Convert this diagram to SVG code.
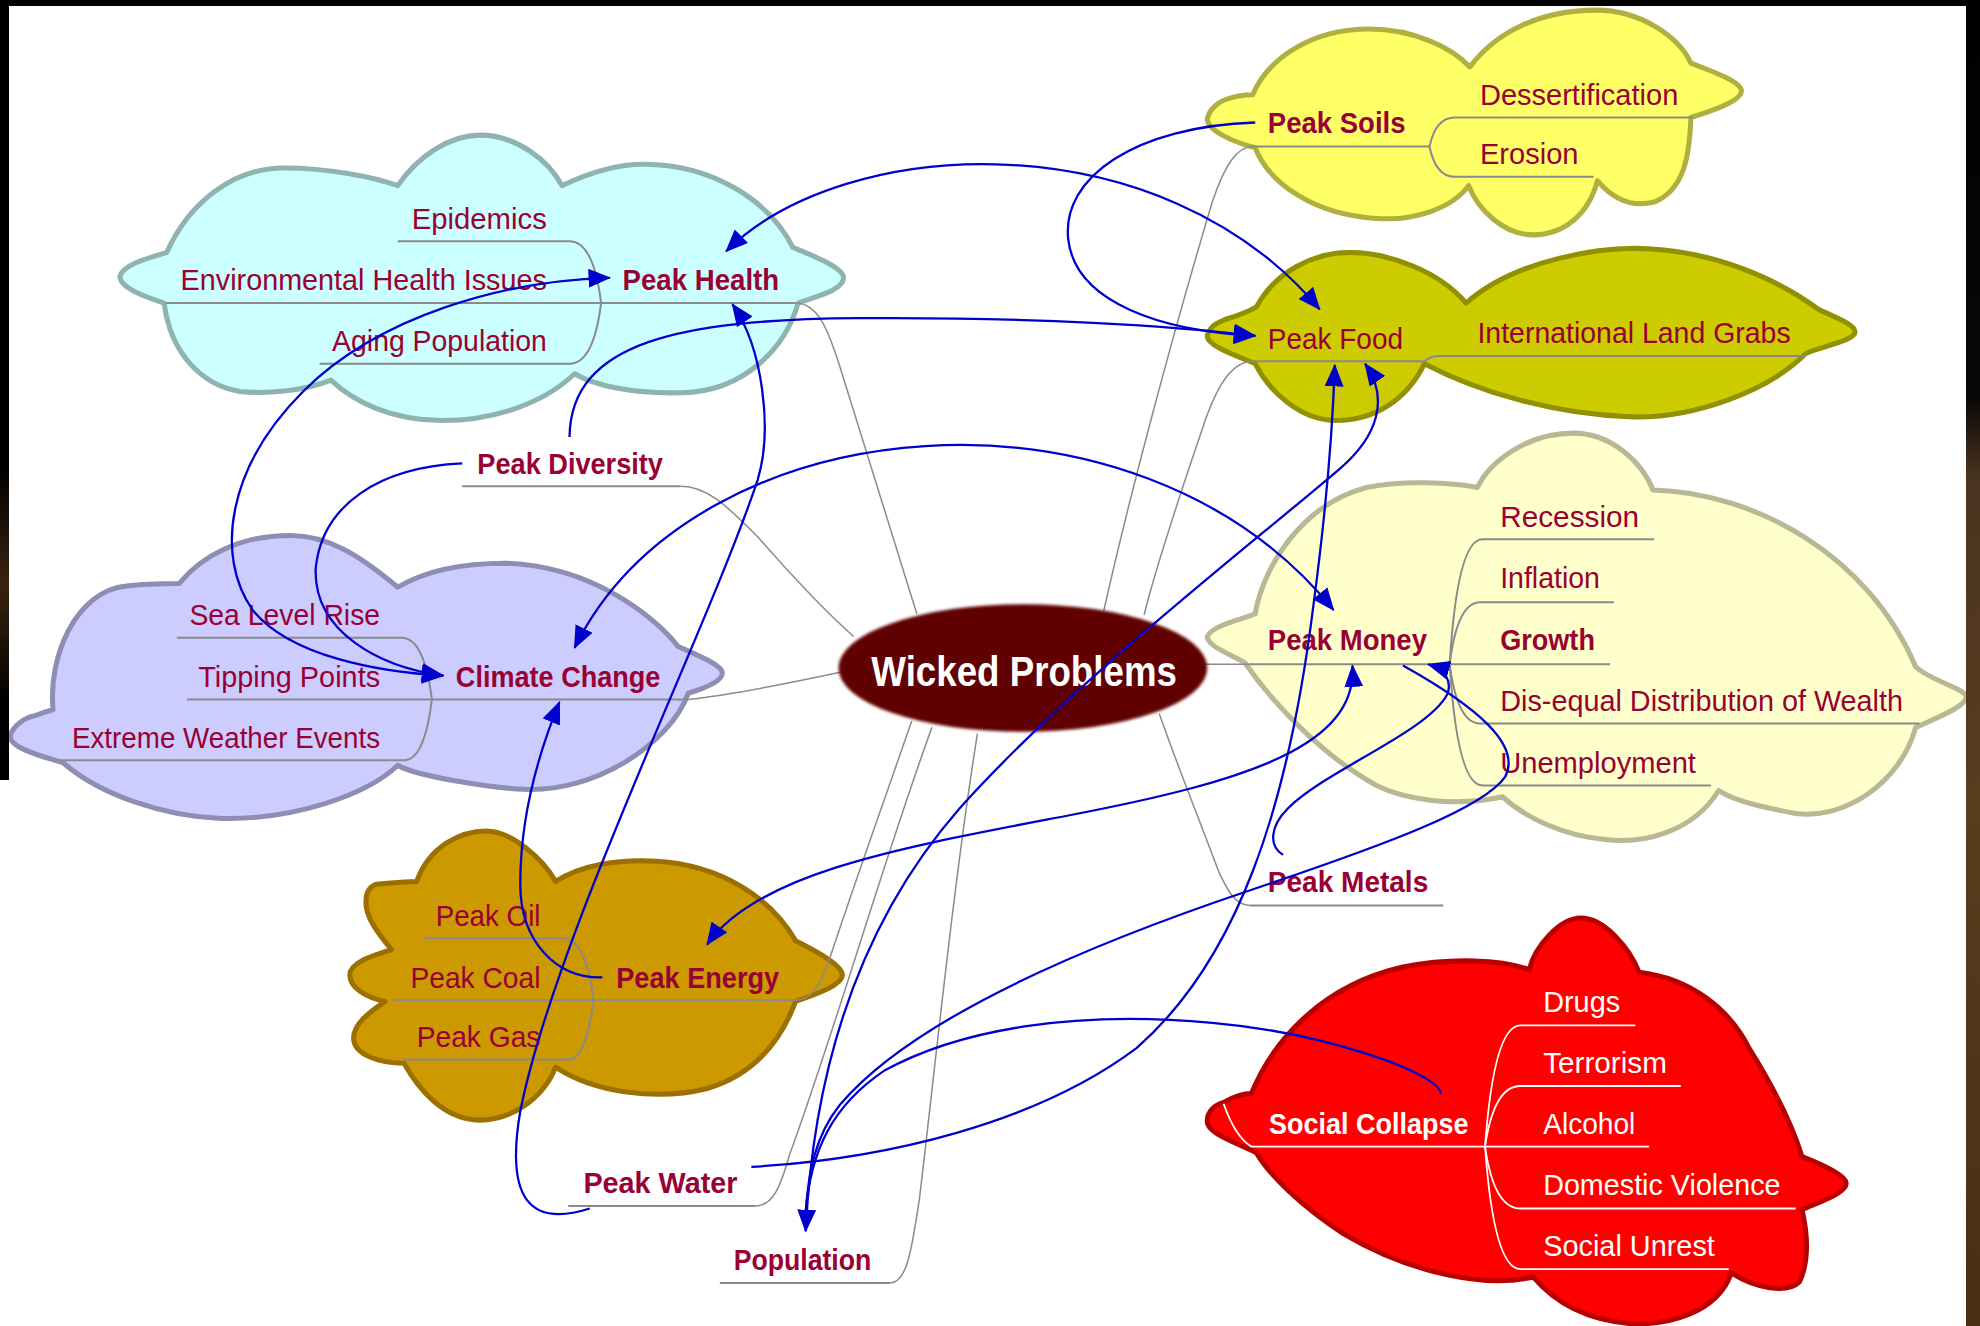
<svg xmlns="http://www.w3.org/2000/svg" width="1980" height="1326" viewBox="0 0 1980 1326">
<defs>
<style>
.lbl{font-family:"Liberation Sans",Arial,sans-serif;font-size:24px;fill:#990033;}
.b{font-weight:bold;}
.w{fill:#ffffff;}
.ul{fill:none;stroke:#8a8a8a;stroke-width:1.6;}
.ulw{fill:none;stroke:#ffffff;stroke-width:1.4;}
.gl{fill:none;stroke:#8c8c8c;stroke-width:1.2;}
.bl{fill:none;stroke:#0000cc;stroke-width:1.8;}
.cloud{stroke-width:4;stroke-linejoin:round;}
</style>
<marker id="ah" viewBox="0 0 18 15" refX="17" refY="7.5" markerWidth="18" markerHeight="15" markerUnits="userSpaceOnUse" orient="auto-start-reverse"><path d="M0,0 L18,7.5 L0,15 Z" fill="#0000cc"/></marker>
<linearGradient id="rs" x1="0" y1="0" x2="0" y2="1">
<stop offset="0" stop-color="#000000"/>
<stop offset="0.3" stop-color="#0a0806"/>
<stop offset="0.36" stop-color="#4a3420"/>
<stop offset="0.6" stop-color="#5a3c1e"/>
<stop offset="1" stop-color="#4a2e14"/>
</linearGradient>
<linearGradient id="ls" x1="0" y1="0" x2="0" y2="1">
<stop offset="0" stop-color="#000000"/>
<stop offset="0.6" stop-color="#000000"/>
<stop offset="0.75" stop-color="#3a2410"/>
<stop offset="0.9" stop-color="#000000"/>
<stop offset="1" stop-color="#000000"/>
</linearGradient>
<filter id="soft" x="-10%" y="-20%" width="120%" height="140%"><feGaussianBlur stdDeviation="1.3"/></filter>
</defs>
<rect x="0" y="0" width="1980" height="1326" fill="#ffffff"/>
<g transform="scale(1.2628)">
<g id="n-peak-health">
<path class="cloud" fill="#ccffff" stroke="#8fb3ae" d="M95,219 C97,210 115,205 132,200 C150,160 185,133 225,133 C260,133 295,140 315,147 C330,125 355,107 380,107 C410,107 435,128 445,147 C470,135 490,130 510,130 C565,130 610,160 628,196 C645,203 668,212 668,220 C668,230 645,235 632,240 C622,275 590,310 540,311 C500,312 470,305 455,296 C430,320 390,333 350,333 C310,333 280,318 262,301 C240,310 210,312 190,310 C160,305 135,280 130,240 C115,235 95,228 95,219 Z"/>
<path class="ul" d="M131,240 H630"/>
<path class="ul" d="M476,240 Q470,191 451,191 H315"/>
<path class="ul" d="M476,240 Q470,288 451,288 H253"/>
<text class="lbl" x="326" y="181" textLength="107" lengthAdjust="spacingAndGlyphs">Epidemics</text>
<text class="lbl" x="143" y="230" textLength="290" lengthAdjust="spacingAndGlyphs">Environmental Health Issues</text>
<text class="lbl" x="263" y="278" textLength="170" lengthAdjust="spacingAndGlyphs">Aging Population</text>
<text class="lbl b" x="493" y="230" textLength="124" lengthAdjust="spacingAndGlyphs">Peak Health</text>
</g>
<g id="n-peak-diversity">
<path class="ul" d="M366,385 H539"/>
<text class="lbl b" x="378" y="375" textLength="147" lengthAdjust="spacingAndGlyphs">Peak Diversity</text>
</g>
<g id="n-climate-change">
<path class="cloud" fill="#ccccff" stroke="#8e8eb4" d="M8,583 C10,575 20,568 27,567 C32,565 38,563 42,562 C38,520 60,468 100,464 C115,462 130,462 142,462 C160,440 190,424 230,424 C260,424 285,440 315,465 C340,450 370,446 400,446 C470,448 520,490 537,512 C555,520 572,527 572,533 C572,540 555,546 545,549 C530,590 470,628 415,625 C390,624 330,615 315,606 C290,630 230,650 173,648 C130,646 80,630 50,604 C30,598 8,592 8,583 Z"/>
<path class="ul" d="M148,554 H545"/>
<path class="ul" d="M342,554 Q336,505 318,505 H140"/>
<path class="ul" d="M342,554 Q336,602 320,602 H46"/>
<text class="lbl" x="150" y="495" textLength="151" lengthAdjust="spacingAndGlyphs">Sea Level Rise</text>
<text class="lbl" x="157" y="544" textLength="144" lengthAdjust="spacingAndGlyphs">Tipping Points</text>
<text class="lbl" x="57" y="592" textLength="244" lengthAdjust="spacingAndGlyphs">Extreme Weather Events</text>
<text class="lbl b" x="361" y="544" textLength="162" lengthAdjust="spacingAndGlyphs">Climate Change</text>
</g>
<g id="n-peak-energy">
<path class="cloud" fill="#cc9900" stroke="#9c7000" d="M300,700 C320,698 325,698 330,698 C340,670 365,658 385,658 C405,658 430,680 440,698 C460,685 490,680 520,682 C570,685 610,710 630,745 C650,755 667,765 667,772 C667,780 645,788 630,793 C620,820 600,850 560,862 C520,872 470,865 440,845 C430,870 405,887 380,887 C350,887 330,860 320,842 C300,842 280,835 280,822 C280,810 295,800 305,793 C290,790 277,782 277,772 C277,762 295,757 310,752 C300,740 288,725 290,712 C290,705 295,700 300,700 Z"/>
<path class="ul" d="M312,792 H630"/>
<path class="ul" d="M470,792 Q464,743 445,743 H335"/>
<path class="ul" d="M470,792 Q464,839 450,839 H320"/>
<text class="lbl" x="345" y="733" textLength="83" lengthAdjust="spacingAndGlyphs">Peak Oil</text>
<text class="lbl" x="325" y="782" textLength="103" lengthAdjust="spacingAndGlyphs">Peak Coal</text>
<text class="lbl" x="330" y="829" textLength="98" lengthAdjust="spacingAndGlyphs">Peak Gas</text>
<text class="lbl b" x="488" y="782" textLength="129" lengthAdjust="spacingAndGlyphs">Peak Energy</text>
</g>
<g id="n-peak-water">
<path class="ul" d="M450,955 H598"/>
<text class="lbl b" x="462" y="945" textLength="122" lengthAdjust="spacingAndGlyphs">Peak Water</text>
</g>
<g id="n-population">
<path class="ul" d="M570,1016 H705"/>
<text class="lbl b" x="581" y="1006" textLength="109" lengthAdjust="spacingAndGlyphs">Population</text>
</g>
<g id="n-peak-soils">
<path class="cloud" fill="#ffff66" stroke="#b0b040" d="M956,94 C958,86 965,81 970,79 C978,76 985,75 992,75 C1005,45 1040,23 1084,23 C1120,23 1150,38 1164,53 C1185,25 1220,8 1264,8 C1300,8 1330,30 1339,50 C1360,58 1379,65 1379,72 C1379,80 1355,88 1339,93 C1338,120 1335,150 1310,160 C1290,165 1275,155 1265,143 C1258,170 1238,186 1214,186 C1190,186 1170,165 1163,147 C1150,165 1120,175 1090,173 C1040,170 1005,145 994,117 C975,112 956,103 956,94 Z"/>
<path class="ul" d="M992,116 H1132"/>
<path class="ul" d="M1132,116 Q1137,93 1152,93 H1341"/>
<path class="ul" d="M1132,116 Q1137,140 1152,140 H1262"/>
<text class="lbl b" x="1004" y="105" textLength="109" lengthAdjust="spacingAndGlyphs">Peak Soils</text>
<text class="lbl" x="1172" y="83" textLength="157" lengthAdjust="spacingAndGlyphs">Dessertification</text>
<text class="lbl" x="1172" y="130" textLength="78" lengthAdjust="spacingAndGlyphs">Erosion</text>
</g>
<g id="n-peak-food">
<path class="cloud" fill="#cccc00" stroke="#909000" d="M956,266 C958,258 965,255 970,253 C980,250 990,246 995,243 C1010,215 1040,200 1069,200 C1100,200 1140,215 1161,240 C1200,205 1270,195 1305,197 C1370,200 1420,230 1440,245 C1455,252 1469,257 1469,263 C1469,270 1440,275 1430,280 C1400,310 1340,332 1290,330 C1230,328 1170,310 1128,288 C1115,315 1090,333 1058,333 C1030,333 1005,310 994,288 C980,282 956,274 956,266 Z"/>
<path class="ul" d="M992,286 H1128 Q1133,282 1140,282 H1430"/>
<text class="lbl" x="1004" y="276" textLength="107" lengthAdjust="spacingAndGlyphs">Peak Food</text>
<text class="lbl" x="1170" y="272" textLength="248" lengthAdjust="spacingAndGlyphs">International Land Grabs</text>
</g>
<g id="n-peak-money">
<path class="cloud" fill="#ffffcc" stroke="#b8b894" d="M956,504 C960,495 985,490 994,486 C1000,450 1030,400 1082,386 C1110,380 1150,382 1170,386 C1180,365 1210,343 1246,343 C1275,343 1300,365 1309,388 C1390,390 1480,440 1517,528 C1530,540 1557,545 1557,552 C1557,560 1530,570 1517,576 C1505,620 1460,650 1421,644 C1400,640 1375,635 1361,626 C1340,660 1300,668 1273,665 C1235,662 1205,645 1190,631 C1150,640 1110,632 1090,622 C1050,600 1010,560 986,525 C975,518 956,512 956,504 Z"/>
<path class="ul" d="M990,526 H1275"/>
<path class="ul" d="M1148,526 Q1154,427 1174,427 H1310"/>
<path class="ul" d="M1148,526 Q1154,477 1172,477 H1278"/>
<path class="ul" d="M1148,526 Q1154,573 1172,573 H1520"/>
<path class="ul" d="M1148,526 Q1154,622 1174,622 H1355"/>
<text class="lbl b" x="1004" y="515" textLength="126" lengthAdjust="spacingAndGlyphs">Peak Money</text>
<text class="lbl" x="1188" y="417" textLength="110" lengthAdjust="spacingAndGlyphs">Recession</text>
<text class="lbl" x="1188" y="466" textLength="79" lengthAdjust="spacingAndGlyphs">Inflation</text>
<text class="lbl b" x="1188" y="515" textLength="75" lengthAdjust="spacingAndGlyphs">Growth</text>
<text class="lbl" x="1188" y="563" textLength="319" lengthAdjust="spacingAndGlyphs">Dis-equal Distribution of Wealth</text>
<text class="lbl" x="1188" y="612" textLength="155" lengthAdjust="spacingAndGlyphs">Unemployment</text>
</g>
<g id="n-peak-metals">
<path class="ul" d="M990,717 H1143"/>
<text class="lbl b" x="1004" y="706" textLength="127" lengthAdjust="spacingAndGlyphs">Peak Metals</text>
</g>
<g id="n-social-collapse">
<path class="cloud" fill="#ff0000" stroke="#b80000" d="M956,888 C956,880 962,875 969,873 C978,868 985,866 991,866 C1010,820 1050,780 1110,766 C1150,758 1190,760 1211,768 C1215,750 1235,727 1252,727 C1270,727 1290,750 1298,770 C1340,775 1370,800 1385,830 C1410,870 1422,900 1427,916 C1450,925 1462,932 1462,937 C1462,945 1440,952 1427,958 C1432,980 1432,1000 1425,1015 C1415,1025 1390,1020 1371,1008 C1360,1040 1320,1050 1290,1048 C1255,1045 1230,1030 1214,1011 C1180,1020 1120,1010 1064,977 C1030,955 1005,930 995,913 C980,905 956,898 956,888 Z"/>
<path class="ulw" d="M969,874 Q978,900 991,908 H1306"/>
<path class="ulw" d="M1176,908 Q1183,812 1204,812 H1295"/>
<path class="ulw" d="M1176,908 Q1183,860 1204,860 H1331"/>
<path class="ulw" d="M1176,908 Q1183,957 1204,957 H1422"/>
<path class="ulw" d="M1176,908 Q1183,1005 1204,1005 H1369"/>
<text class="lbl b w" x="1005" y="898" textLength="158" lengthAdjust="spacingAndGlyphs">Social Collapse</text>
<text class="lbl w" x="1222" y="801" textLength="61" lengthAdjust="spacingAndGlyphs">Drugs</text>
<text class="lbl w" x="1222" y="850" textLength="98" lengthAdjust="spacingAndGlyphs">Terrorism</text>
<text class="lbl w" x="1222" y="898" textLength="73" lengthAdjust="spacingAndGlyphs">Alcohol</text>
<text class="lbl w" x="1222" y="946" textLength="188" lengthAdjust="spacingAndGlyphs">Domestic Violence</text>
<text class="lbl w" x="1222" y="995" textLength="136" lengthAdjust="spacingAndGlyphs">Social Unrest</text>
</g>
<g id="tree-links">
<path class="gl" d="M630,240 C648,240 656,262 665,290 C690,370 712,440 726,486"/>
<path class="gl" d="M539,385 C560,385 575,400 600,425 C630,460 660,490 676,504"/>
<path class="gl" d="M545,554 C580,550 630,540 667,532"/>
<path class="gl" d="M630,792 C645,792 652,775 660,750 C680,690 705,620 722,571"/>
<path class="gl" d="M598,955 C612,955 618,940 625,915 C660,820 700,680 738,576"/>
<path class="gl" d="M705,1016 C718,1016 722,990 728,950 C740,850 755,700 774,581"/>
<path class="gl" d="M992,116 C980,116 970,130 960,160 C930,260 895,390 874,484"/>
<path class="gl" d="M992,286 C978,286 965,300 952,340 C935,390 915,450 906,487"/>
<path class="gl" d="M950,526 H992"/>
<path class="gl" d="M990,717 C978,717 972,705 965,690 C950,650 930,600 918,565"/>
</g>
<g id="n-wicked-problems">
<ellipse cx="810" cy="529" rx="146" ry="50.5" fill="#600000" filter="url(#soft)"/>
<text class="b" x="690" y="543" font-family="'Liberation Sans',Arial,sans-serif" font-size="33" fill="#ffffff" textLength="242" lengthAdjust="spacingAndGlyphs">Wicked Problems</text>
</g>
<g id="cross-links">
<path class="bl" marker-end="url(#ah)" d="M994,97 C900,100 840,140 846,190 C852,240 920,262 994,266"/>
<path class="bl" marker-end="url(#ah)" d="M451,346 C452,270 540,253 680,252 C820,251 930,258 994,266"/>
<path class="bl" marker-start="url(#ah)" marker-end="url(#ah)" d="M575,199 C670,105 920,95 1045,245"/>
<path class="bl" marker-start="url(#ah)" marker-end="url(#ah)" d="M455,513 C550,320 900,290 1056,483"/>
<path class="bl" marker-start="url(#ah)" marker-end="url(#ah)" d="M483,220 C400,222 300,250 240,310 C180,370 170,440 200,483 C230,520 300,532 351,535"/>
<path class="bl" marker-end="url(#ah)" d="M366,367 C300,370 255,400 250,450 C248,500 300,528 351,535"/>
<path class="bl" marker-end="url(#ah)" d="M467,957 C420,972 400,950 412,880 C440,740 560,500 600,380 C612,340 604,275 580,241"/>
<path class="bl" marker-end="url(#ah)" d="M477,774 C440,775 412,745 412,700 C412,650 425,600 443,556"/>
<path class="bl" marker-start="url(#ah)" marker-end="url(#ah)" d="M560,748 C600,690 720,670 850,645 C990,618 1075,590 1071,527"/>
<path class="bl" marker-end="url(#ah)" d="M1016,677 C1005,670 1005,655 1020,640 C1050,610 1130,580 1146,550 C1150,540 1145,530 1131,526"/>
<path class="bl" d="M1111,527 C1170,560 1205,590 1192,615 C1175,640 1100,668 990,705 C850,752 720,810 665,875 C645,900 640,930 638,960"/>
<path class="bl" d="M1141,866 C1140,850 1050,818 960,810 C850,800 760,815 700,848 C660,875 642,910 638,960"/>
<path class="bl" marker-start="url(#ah)" marker-end="url(#ah)" d="M1081,288 C1100,315 1092,345 1060,372 C980,440 850,540 760,640 C690,720 645,830 638,975"/>
<path class="bl" marker-end="url(#ah)" d="M595,924 C700,918 820,890 900,830 C980,760 1020,640 1040,480 C1048,420 1055,350 1057,289"/>
</g>
</g>
<rect x="0" y="0" width="1980" height="6" fill="#000000"/>
<rect x="0" y="0" width="9" height="780" fill="url(#ls)"/>
<rect x="1966" y="0" width="14" height="1326" fill="url(#rs)"/>
</svg>
